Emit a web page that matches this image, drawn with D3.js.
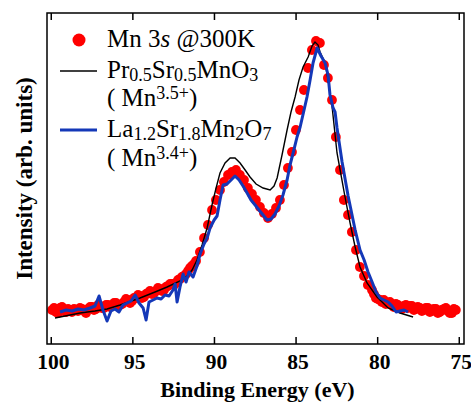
<!DOCTYPE html>
<html>
<head>
<meta charset="utf-8">
<script src="https://cdn.jsdelivr.net/npm/d3@7"></script>
<style>
  body { margin: 0; background: #fff; }
</style>
</head>
<body>
<div class="chart"></div>
<script>
// Mn 3s spectrum, binding energy (eV) vs intensity (arb. units)
var redEnergy = [99.92, 99.80, 99.68, 99.55, 99.43, 99.31, 99.19, 99.06, 98.94, 98.82,
  98.70, 98.57, 98.45, 98.33, 98.21, 98.08, 97.96, 97.84, 97.72, 97.59,
  97.47, 97.35, 97.23, 97.10, 96.98, 96.86, 96.74, 96.61, 96.49, 96.37,
  96.25, 96.12, 96.00, 95.88, 95.76, 95.63, 95.51, 95.39, 95.27, 95.14,
  95.02, 94.90, 94.78, 94.65, 94.53, 94.41, 94.29, 94.16, 94.04, 93.92,
  93.80, 93.67, 93.55, 93.43, 93.31, 93.18, 93.06, 92.94, 92.82, 92.69,
  92.57, 92.45, 92.33, 92.20, 92.08, 91.96, 91.84, 91.71, 91.59, 91.47,
  91.35, 91.22, 91.10,
  90.86, 90.61, 90.37, 90.12, 89.88, 89.63, 89.39, 89.14, 88.90, 88.65,
  88.41, 88.16, 87.92, 87.67, 87.43, 87.18, 86.94, 86.69, 86.45, 86.20,
  85.96, 85.71, 85.47, 85.22, 84.98, 84.73, 84.49, 84.24, 84.00, 83.75,
  83.51, 83.26, 83.02, 82.77, 82.53, 82.28, 82.04, 81.79, 81.55, 81.30,
  81.06, 80.81, 80.57,
  80.32, 80.20, 80.08, 79.96, 79.83, 79.71, 79.59, 79.47, 79.34, 79.22,
  79.10, 78.98, 78.85, 78.73, 78.61, 78.49, 78.36, 78.24, 78.12, 78.00,
  77.87, 77.75, 77.63, 77.51, 77.38, 77.26, 77.14, 77.02, 76.89, 76.77,
  76.65, 76.53, 76.40, 76.28, 76.16, 76.04, 75.91, 75.79, 75.67, 75.55,
  75.42, 75.30, 75.18];
var redIntensity = [0.4, 0.6, 0.2, 0.1, 0.6, 0.7, 0.3, 0.2, 0.5, 0.4,
  0.2, 0.5, 0.4, 0.3, 0.6, 0.5, 0.3, 0.1, 0.5, 0.7,
  0.7, 0.4, 0.5, 0.9, 0.8, 0.6, 0.6, 0.9, 0.9, 0.7,
  0.8, 1.1, 1.1, 0.8, 0.9, 1.0, 1.2, 1.5, 1.4, 1.1,
  1.3, 1.6, 1.6, 1.9, 1.8, 1.6, 1.7, 2.0, 2.1, 2.3,
  2.0, 2.1, 2.3, 2.6, 2.5, 2.3, 2.4, 2.7, 2.8, 3.0,
  3.0, 2.9, 3.1, 3.4, 3.5, 3.7, 3.8, 4.0, 4.3, 4.6,
  4.8, 5.0, 5.3,
  6.2, 7.6, 8.9, 10.4, 11.4, 12.4, 13.2, 13.9, 14.2, 14.4,
  13.9, 13.4, 12.6, 12.0, 11.4, 10.7, 10.1, 9.6, 10.0, 10.6,
  11.4, 12.9, 14.6, 16.2, 18.4, 20.4, 22.4, 24.6, 26.4, 27.3,
  27.1, 24.9, 23.6, 21.4, 17.7, 14.4, 11.4, 9.9, 8.2, 6.4,
  4.7, 3.8, 2.9,
  2.4, 2.0, 1.6, 1.5, 1.4, 1.2, 1.4, 1.0, 1.1, 1.2,
  0.9, 0.7, 1.0, 0.9, 0.7, 0.5, 0.8, 0.9, 0.6, 0.8,
  0.8, 0.4, 0.5, 0.7, 0.6, 0.3, 0.4, 0.6, 0.6, 0.2,
  0.3, 0.5, 0.5, 0.1, 0.2, 0.4, 0.5, 0.6, 0.3, 0.1,
  0.1, 0.5, 0.4];

var pssEnergy = [99.74, 99.12, 98.20, 97.29, 96.55, 95.75, 94.53, 93.61, 92.87, 92.08,
  91.65, 91.34, 91.04, 90.73, 90.42, 90.12, 89.87, 89.63, 89.32, 89.01,
  88.71, 88.40, 88.09, 87.79, 87.42, 86.99, 86.56, 86.32, 86.13, 85.83,
  85.52, 85.28, 85.03, 84.79, 84.54, 84.23, 83.99, 83.81, 83.62, 83.50,
  83.19, 83.01, 82.76, 82.46, 82.27, 81.97, 81.66, 81.35, 81.05, 80.62,
  80.01, 79.33, 78.60, 77.80];
var pssIntensity = [-0.4, -0.2, 0.1, 0.3, 0.5, 0.9, 1.6, 2.2, 2.7, 3.3,
  3.8, 4.4, 5.4, 6.9, 8.6, 10.9, 12.6, 14.1, 15.1, 15.6,
  15.6, 15.1, 14.4, 13.7, 13.0, 12.6, 12.4, 12.8, 13.6, 15.9,
  18.4, 20.2, 21.7, 23.4, 24.7, 25.7, 26.8, 27.2, 26.9, 26.2,
  25.1, 23.4, 20.7, 16.1, 14.4, 11.7, 9.1, 6.7, 4.7, 3.1,
  1.7, 0.6, 0.1, -0.3];

var lsmEnergy = [99.43, 99.06, 98.69, 98.33, 97.96, 97.59, 97.29, 97.04, 96.80, 96.55,
  96.31, 96.06, 95.82, 95.57, 95.32, 95.08, 94.83, 94.59, 94.34, 94.16,
  93.98, 93.73, 93.49, 93.24, 93.00, 92.75, 92.51, 92.38, 92.26, 92.08,
  91.89, 91.71, 91.53, 91.28, 91.04, 90.85, 90.61, 90.42, 90.24, 89.99,
  89.81, 89.63, 89.44, 89.20, 88.95, 88.71, 88.46, 88.22, 87.97, 87.73,
  87.48, 87.24, 86.99, 86.75, 86.50, 86.26, 86.01, 85.77, 85.52, 85.34,
  85.15, 84.91, 84.72, 84.48, 84.30, 84.11, 83.93, 83.68, 83.44, 83.19,
  83.01, 82.89, 82.70, 82.58, 82.46, 82.15, 81.78, 81.35, 81.05, 80.80,
  80.56, 80.31, 80.07, 79.82, 79.58, 79.33, 79.09, 78.84, 78.60, 78.35,
  78.11];
var lsmIntensity = [0.2, 0.4, 0.3, 0.5, 0.4, 0.6, 0.8, 1.8, 0.4, -0.7,
  0.3, 0.5, 0.2, 0.9, 1.1, 1.3, 1.9, 1.1, 0.6, -0.6,
  1.2, 1.4, 1.6, 1.5, 1.9, 1.8, 2.4, 3.0, 1.2, 2.7,
  4.0, 3.2, 4.2, 3.7, 4.8, 6.0, 7.0, 7.6, 8.6, 9.4,
  9.8, 11.4, 12.9, 13.0, 13.4, 13.8, 13.4, 12.8, 12.1, 11.4,
  10.9, 10.4, 9.9, 9.4, 9.5, 10.0, 10.8, 11.9, 13.4, 14.9,
  16.1, 17.7, 18.7, 20.4, 21.7, 23.4, 25.1, 26.6, 25.8, 25.1,
  23.9, 21.9, 20.6, 20.2, 18.6, 15.2, 11.8, 8.4, 6.4, 5.4,
  4.2, 3.2, 2.2, 1.6, 1.4, 1.2, 0.8, 0.2, 0.3, 0.4,
  0.2];

var xTicks = [100, 95, 90, 85, 80, 75];

var serifFont = '"Liberation Serif", "Times New Roman"';

var svgWidth = 471;
var svgHeight = 403;
var margin = { top: 13, right: 7, bottom: 59, left: 47 };
var width = svgWidth - margin.left - margin.right;
var height = svgHeight - margin.top - margin.bottom;

var svg = d3.select(".chart")
  .append("svg")
  .attr("width", svgWidth)
  .attr("height", svgHeight);

var chartGroup = svg.append("g")
  .attr("transform", `translate(${margin.left}, ${margin.top})`);

var xLinearScale = d3.scaleLinear()
  .domain([100.23, 74.68])
  .range([0, width]);

var yLinearScale = d3.scaleLinear()
  .domain([-3, 30.1])
  .range([height, 0]);

var red = redEnergy.map((e, i) => ({ e: e, v: redIntensity[i] }));
var pss = pssEnergy.map((e, i) => ({ e: e, v: pssIntensity[i] }));
var lsm = lsmEnergy.map((e, i) => ({ e: e, v: lsmIntensity[i] }));

var line = d3.line()
  .x(d => xLinearScale(d.e))
  .y(d => yLinearScale(d.v));

chartGroup.selectAll("circle.dot")
  .data(red)
  .enter()
  .append("circle")
  .attr("class", "dot")
  .attr("cx", d => xLinearScale(d.e))
  .attr("cy", d => yLinearScale(d.v))
  .attr("r", 4.9)
  .attr("fill", "#ff0000");

chartGroup.append("path")
  .datum(pss)
  .attr("d", line)
  .attr("fill", "none")
  .attr("stroke", "#000")
  .attr("stroke-width", 1.4);

chartGroup.append("path")
  .datum(lsm)
  .attr("d", line)
  .attr("fill", "none")
  .attr("stroke", "#1438b8")
  .attr("stroke-width", 3)
  .attr("stroke-linejoin", "round");

// frame
chartGroup.append("rect")
  .attr("width", width)
  .attr("height", height)
  .attr("fill", "none")
  .attr("stroke", "#000")
  .attr("stroke-width", 1.5);

var bottomAxis = d3.axisBottom(xLinearScale)
  .tickValues(xTicks)
  .tickSizeInner(-7)
  .tickSizeOuter(0)
  .tickPadding(10);

var xAxis = chartGroup.append("g")
  .attr("transform", `translate(0, ${height})`)
  .call(bottomAxis);
xAxis.select(".domain").remove();
xAxis.selectAll("line").attr("stroke-width", 1.5);
xAxis.selectAll("text")
  .style("font-family", serifFont)
  .style("font-size", "21.5px")
  .style("font-weight", "bold")
  .attr("dx", 2)
  .attr("fill", "#000");

var topAxis = d3.axisTop(xLinearScale)
  .tickValues(xTicks)
  .tickSizeInner(-7)
  .tickSizeOuter(0)
  .tickFormat("");
var xAxisTop = chartGroup.append("g").call(topAxis);
xAxisTop.select(".domain").remove();
xAxisTop.selectAll("line").attr("stroke-width", 1.5);

chartGroup.append("text")
  .attr("x", width / 2 + 2)
  .attr("y", 383.5)
  .attr("text-anchor", "middle")
  .style("font-family", serifFont)
  .style("font-size", "22px")
  .style("font-weight", "bold")
  .text("Binding Energy (eV)");

chartGroup.append("text")
  .attr("transform", `translate(${32 - margin.left}, ${height / 2}) rotate(-90)`)
  .attr("text-anchor", "middle")
  .style("font-family", serifFont)
  .style("font-size", "23px")
  .style("font-weight", "bold")
  .text("Intensity (arb. units)");

// legend
var legend = svg.append("g");
legend.append("circle")
  .attr("cx", 79).attr("cy", 40).attr("r", 6.5)
  .attr("fill", "#ff0000");
legend.append("line")
  .attr("x1", 60).attr("x2", 97).attr("y1", 71).attr("y2", 71)
  .attr("stroke", "#000").attr("stroke-width", 1.4);
legend.append("line")
  .attr("x1", 60).attr("x2", 97).attr("y1", 130).attr("y2", 130)
  .attr("stroke", "#1438b8").attr("stroke-width", 3);

function legendText(y, parts) {
  var t = legend.append("text")
    .attr("x", 107)
    .attr("y", y)
    .style("font-family", serifFont)
    .style("font-size", "25px");
  parts.forEach(function(p) {
    var s = t.append("tspan").text(p.t);
    if (p.sub) s.style("font-size", "18px").attr("dy", 3);
    if (p.sup) s.style("font-size", "18px").attr("dy", -7);
    if (p.back) s.attr("dy", p.back);
    if (p.italic) s.style("font-style", "italic");
  });
}

legendText(46.7, [{ t: "Mn 3" }, { t: "s", italic: true }, { t: " @300K" }]);
legendText(77.7, [{ t: "Pr" }, { t: "0.5", sub: true }, { t: "Sr", back: -3 },
  { t: "0.5", sub: true }, { t: "MnO", back: -3 }, { t: "3", sub: true }]);
legendText(106, [{ t: "( Mn" }, { t: "3.5+", sup: true }, { t: ")", back: 7 }]);
legendText(136.7, [{ t: "La" }, { t: "1.2", sub: true }, { t: "Sr", back: -3 },
  { t: "1.8", sub: true }, { t: "Mn", back: -3 }, { t: "2", sub: true },
  { t: "O", back: -3 }, { t: "7", sub: true }]);
legendText(166, [{ t: "( Mn" }, { t: "3.4+", sup: true }, { t: ")", back: 7 }]);
</script>
</body>
</html>
